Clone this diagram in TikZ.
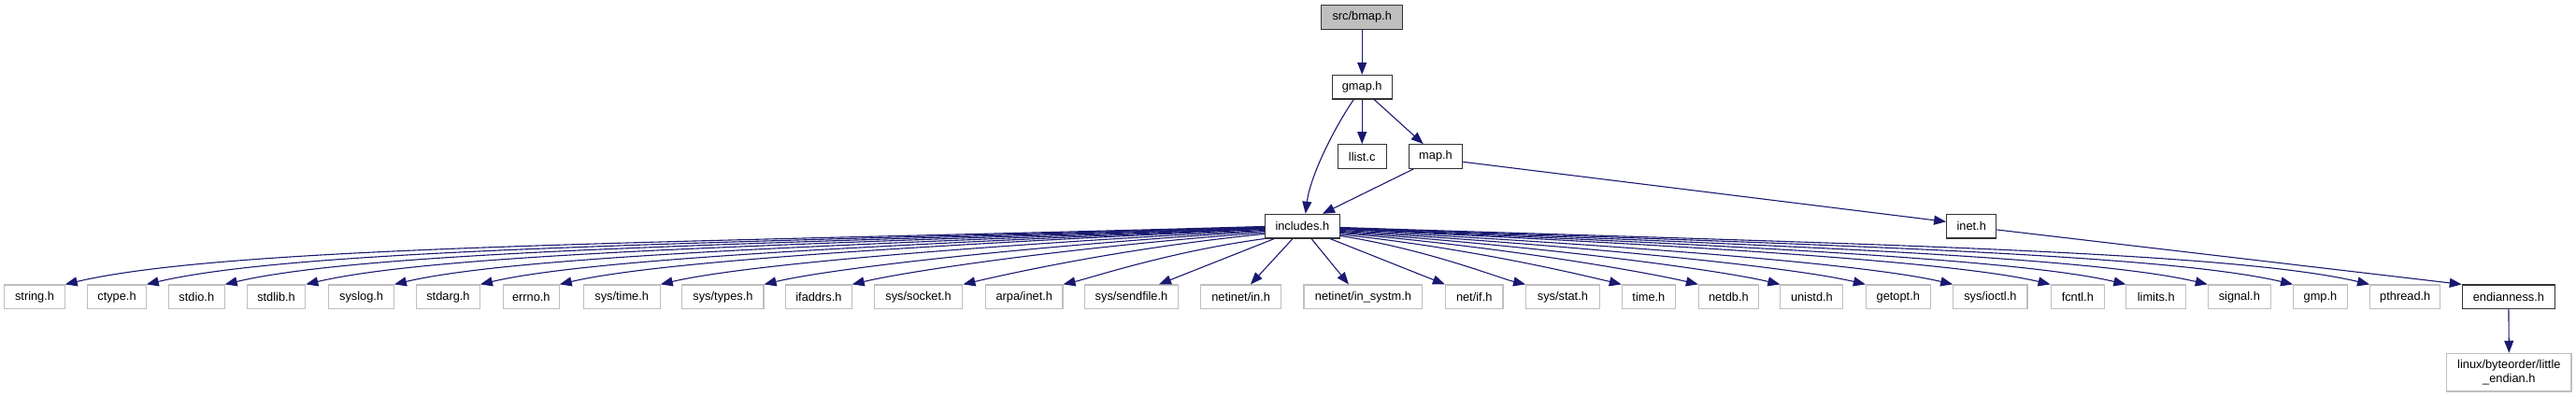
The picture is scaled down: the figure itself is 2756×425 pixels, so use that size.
\documentclass[tikz,border=0pt]{standalone}
\usepackage{fontspec}
\setmainfont{Liberation Sans}
\usetikzlibrary{arrows.meta,calc}
\definecolor{edgec}{HTML}{191970}
\definecolor{leafc}{HTML}{BFBFBF}
\definecolor{boxc}{HTML}{333333}
\tikzset{
  nbox/.style={draw=boxc, line width=1.1pt, fill=white, inner sep=0pt,
    minimum height=25.7pt, font=\fontsize{12.8}{15}\selectfont, text=black},
  lbox/.style={nbox, draw=leafc},
  sbox/.style={nbox, fill=leafc},
  dep/.style={draw=edgec, line width=1.1pt, -{Triangle[length=13pt,width=10pt]}},
}
\newcommand\ledge[2]{\draw[dep] let \p1=(#1), \p2=(#2), \n1={\x1-\x2} in
  (\p1) .. controls ({\x1-0.47*\n1},{\y1-0.28*(\y1-\y2)}) and ({\x2+0.14*\n1},{\y2+0.033*\n1}) .. (\p2);}
\newcommand\redge[2]{\draw[dep] let \p1=(#1), \p2=(#2), \n1={\x2-\x1} in
  (\p1) .. controls ({\x1+0.47*\n1},{\y1-0.28*(\y1-\y2)}) and ({\x2-0.14*\n1},{\y2+0.033*\n1}) .. (\p2);}
\begin{document}
\begin{tikzpicture}[x=1pt,y=-1pt]
\useasboundingbox (0,0) rectangle (2756,425);
% upper nodes
\node[sbox, minimum width=87pt] (bmap) at (1457.2,18.5) {src/bmap.h};
\node[nbox, minimum width=64.3pt] (gmap) at (1457.2,93.2) {gmap.h};
\node[nbox, minimum width=52.3pt] (llist) at (1457.2,167.5) {llist.c};
\node[nbox, minimum width=57.4pt] (map) at (1536,167.5) {map.h};
\node[nbox, minimum width=80pt] (inc) at (1393.3,242.15) {includes.h};
\node[nbox, minimum width=53.1pt] (inet) at (2109.2,242.15) {inet.h};
% leaves
\node[lbox, minimum width=64.3pt] (string) at (37.05,317.8) {string.h};
\node[lbox, minimum width=62.5pt] (ctype) at (125,317.8) {ctype.h};
\node[lbox, minimum width=59.8pt] (stdio) at (210.3,317.8) {stdio.h};
\node[lbox, minimum width=62.5pt] (stdlib) at (295.55,317.8) {stdlib.h};
\node[lbox, minimum width=69.6pt] (syslog) at (386.6,317.8) {syslog.h};
\node[lbox, minimum width=67.9pt] (stdarg) at (479.45,317.8) {stdarg.h};
\node[lbox, minimum width=59.8pt] (errno) at (568.3,317.8) {errno.h};
\node[lbox, minimum width=82.1pt] (systime) at (665.2,317.8) {sys/time.h};
\node[lbox, minimum width=87.1pt] (systypes) at (773.45,317.8) {sys/types.h};
\node[lbox, minimum width=70.6pt] (ifaddrs) at (875.9,317.8) {ifaddrs.h};
\node[lbox, minimum width=94.6pt] (syssocket) at (982.6,317.8) {sys/socket.h};
\node[lbox, minimum width=82.5pt] (arpa) at (1095.75,317.8) {arpa/inet.h};
\node[lbox, minimum width=100.4pt] (sendfile) at (1210.5,317.8) {sys/sendfile.h};
\node[lbox, minimum width=85.7pt] (netin) at (1327.65,317.8) {netinet/in.h};
\node[lbox, minimum width=126.9pt] (insystm) at (1458.45,317.8) {netinet/in\_systm.h};
\node[lbox, minimum width=61.6pt] (netif) at (1577.2,317.8) {net/if.h};
\node[lbox, minimum width=78.6pt] (sysstat) at (1671.9,317.8) {sys/stat.h};
\node[lbox, minimum width=57.1pt] (time) at (1763.85,317.8) {time.h};
\node[lbox, minimum width=63.9pt] (netdb) at (1849.35,317.8) {netdb.h};
\node[lbox, minimum width=67pt] (unistd) at (1938.4,317.8) {unistd.h};
\node[lbox, minimum width=68.8pt] (getopt) at (2030.8,317.8) {getopt.h};
\node[lbox, minimum width=79.3pt] (sysioctl) at (2129.35,317.8) {sys/ioctl.h};
\node[lbox, minimum width=57.4pt] (fcntl) at (2222.8,317.8) {fcntl.h};
\node[lbox, minimum width=63.6pt] (limits) at (2306.7,317.8) {limits.h};
\node[lbox, minimum width=67pt] (signal) at (2395.8,317.8) {signal.h};
\node[lbox, minimum width=57.7pt] (gmp) at (2482.45,317.8) {gmp.h};
\node[lbox, minimum width=75.3pt] (pthread) at (2573.25,317.8) {pthread.h};
\node[nbox, minimum width=99.2pt] (endian) at (2683.9,317.8) {endianness.h};
\node[lbox, minimum width=133.4pt, minimum height=40.7pt, align=center] (linux) at (2684.3,398.65) {linux/byteorder/little\\\_endian.h};
% upper edges
\draw[dep] (bmap.south) -- (gmap.north);
\draw[dep] (gmap.south) -- (llist.north);
\draw[dep] ($(gmap.south)+(13,0)$) -- ($(map.north)+(-13.3,0)$);
\draw[dep] ($(gmap.south)+(-9,0)$) .. controls +(-23,34) and +(5,-39.3) .. ($(inc.north)+(3.4,0)$);
\draw[dep] ($(map.south)+(-23.7,0)$) -- ($(inc.north)+(21.7,0)$);
\draw[dep] ($(map.east)+(0,5.8)$) -- ($(inet.west)+(0,-4.85)$);
\draw[dep] ($(inet.east)+(0,3.8)$) -- (endian.north west);
\draw[dep] (endian.south) -- (linux.north);
% includes.h straight edges
\draw[dep] ($(inc.south)+(-30,0)$) -- ($(sendfile.north)+(29.5,0)$);
\draw[dep] ($(inc.south)+(-10.3,0)$) -- ($(netin.north)+(10.3,0)$);
\draw[dep] ($(inc.south)+(9.7,0)$) -- ($(insystm.north)+(-15.5,0)$);
\draw[dep] ($(inc.south)+(29.7,0)$) -- (netif.north west);
% includes.h left edges
\ledge{$(inc.north west)+(0,13.7)$}{string.north east}
\ledge{$(inc.north west)+(0,14.2)$}{ctype.north east}
\ledge{$(inc.north west)+(0,14.7)$}{stdio.north east}
\ledge{$(inc.north west)+(0,15.2)$}{stdlib.north east}
\ledge{$(inc.north west)+(0,15.7)$}{syslog.north east}
\ledge{$(inc.north west)+(0,16.2)$}{stdarg.north east}
\ledge{$(inc.north west)+(0,16.7)$}{errno.north east}
\ledge{$(inc.north west)+(0,17.7)$}{systime.north east}
\ledge{$(inc.north west)+(0,18.7)$}{systypes.north east}
\ledge{$(inc.north west)+(0,20.2)$}{ifaddrs.north east}
\ledge{$(inc.north west)+(0,21.7)$}{syssocket.north east}
\ledge{inc.south west}{arpa.north east}
% includes.h right edges
\redge{$(inc.north east)+(0,23.7)$}{sysstat.north west}
\redge{$(inc.north east)+(0,22.2)$}{time.north west}
\redge{$(inc.north east)+(0,20.7)$}{netdb.north west}
\redge{$(inc.north east)+(0,19.7)$}{unistd.north west}
\redge{$(inc.north east)+(0,18.7)$}{getopt.north west}
\redge{$(inc.north east)+(0,17.7)$}{sysioctl.north west}
\redge{$(inc.north east)+(0,16.7)$}{fcntl.north west}
\redge{$(inc.north east)+(0,16.2)$}{limits.north west}
\redge{$(inc.north east)+(0,15.7)$}{signal.north west}
\redge{$(inc.north east)+(0,15.2)$}{gmp.north west}
\redge{$(inc.north east)+(0,14.7)$}{pthread.north west}
\end{tikzpicture}
\end{document}
